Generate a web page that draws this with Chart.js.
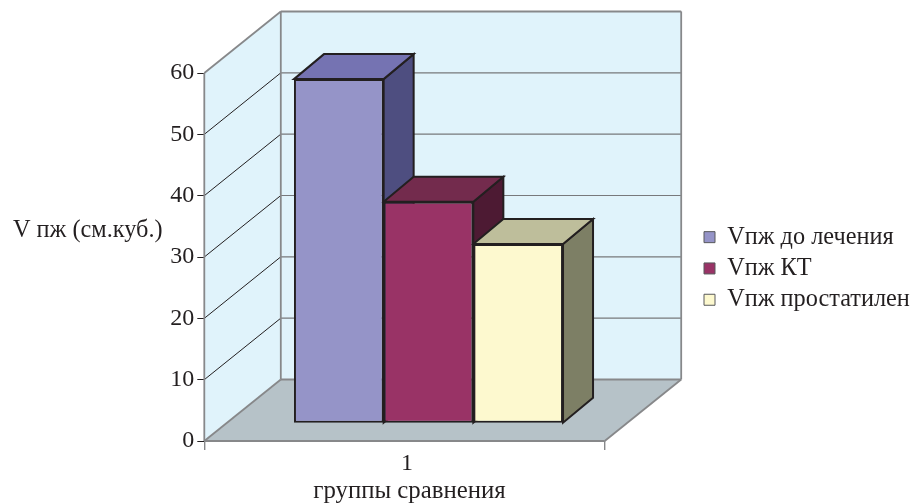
<!DOCTYPE html>
<html>
<head>
<meta charset="utf-8">
<script src="https://cdn.jsdelivr.net/npm/chart.js@4/dist/chart.umd.min.js"></script>
<style>
  html, body { margin: 0; padding: 0; background: #fff; }
  canvas { display: block; }
</style>
</head>
<body>
<canvas id="chart" width="913" height="504"></canvas>
<script>
// Values
const categories = ['1'];
const series_names = ['Vпж до лечения', 'Vпж КТ', 'Vпж простатилен'];
const before_treatment = [56.1];
const after_kt = [36.1];
const after_prostatilen = [29.2];
const y_ticks = [0, 10, 20, 30, 40, 50, 60];
const y_title = 'V пж (см.куб.)';
const x_title = 'группы сравнения';

const font_family = '"Liberation Serif", serif';
const text_color = '#231F20';
const edge_color = '#231F20';
const wall_color = '#E0F3FB';
const floor_color = '#B6C2C8';
const wall_edge = '#87888A';

const front_colors = ['#9594C8', '#993366', '#FDF9CF'];
const top_colors = ['#7573B2', '#732B4D', '#BEBE9B'];
const side_colors = ['#4E4E80', '#4D1A33', '#7D7F65'];

// Depth of the box and where the bars stand on the floor
const wall_dx = 76.5, wall_dy = -61.5;
const bar_shift_x = 24, bar_shift_y = -17.8;
const bar_dx = 30, bar_dy = -25;

function polygon(ctx, points, fill, stroke, lineWidth) {
    ctx.beginPath();
    points.forEach((p, i) => i ? ctx.lineTo(p[0], p[1]) : ctx.moveTo(p[0], p[1]));
    ctx.closePath();
    if (fill) {
        ctx.fillStyle = fill;
        ctx.fill();
    }
    if (stroke) {
        ctx.strokeStyle = stroke;
        ctx.lineWidth = lineWidth;
        ctx.lineJoin = 'miter';
        ctx.stroke();
    }
}

function line(ctx, x1, y1, x2, y2, color, lineWidth) {
    ctx.beginPath();
    ctx.moveTo(x1, y1);
    ctx.lineTo(x2, y2);
    ctx.strokeStyle = color;
    ctx.lineWidth = lineWidth;
    ctx.stroke();
}

function draw_box(chart) {
    const ctx = chart.ctx;
    const { left, right, top, bottom } = chart.chartArea;
    const dx = wall_dx, dy = wall_dy;

    polygon(ctx, [[left, top], [left + dx, top + dy], [left + dx, bottom + dy], [left, bottom]], wall_color);
    polygon(ctx, [[left + dx, top + dy], [right + dx, top + dy], [right + dx, bottom + dy], [left + dx, bottom + dy]], wall_color);
    polygon(ctx, [[left, bottom], [left + dx, bottom + dy], [right + dx, bottom + dy], [right, bottom]], floor_color);

    y_ticks.forEach(v => {
        const y = chart.scales.y.getPixelForValue(v);
        if (v > 0 && v < 60) {
            line(ctx, left, y, left + dx, y + dy, '#231F20', 1);
        }
        if (v > 0) {
            line(ctx, left + dx, y + dy, right + dx, y + dy, '#77787B', 1.2);
        }
    });

    line(ctx, left, top, left + dx, top + dy, wall_edge, 1.8);
    line(ctx, left + dx, top + dy, right + dx, top + dy, wall_edge, 1.8);
    line(ctx, left, top, left, bottom, wall_edge, 1.8);
    line(ctx, left + dx, top + dy, left + dx, bottom + dy, wall_edge, 1.8);
    line(ctx, right + dx, top + dy, right + dx, bottom + dy, wall_edge, 1.8);
    line(ctx, left, bottom, left + dx, bottom + dy, wall_edge, 1.8);
    line(ctx, left + dx, bottom + dy, right + dx, bottom + dy, wall_edge, 1.8);
    line(ctx, right, bottom, right + dx, bottom + dy, wall_edge, 1.8);
    line(ctx, left, bottom, right, bottom, wall_edge, 1.8);
}

function draw_bar_depth(chart) {
    const ctx = chart.ctx;
    chart.data.datasets.forEach((ds, i) => {
        const bar = chart.getDatasetMeta(i).data[0];
        const x1 = bar.x - bar.width / 2 + bar_shift_x;
        const x2 = bar.x + bar.width / 2 + bar_shift_x;
        const y1 = bar.y + bar_shift_y;
        const y2 = bar.base + bar_shift_y;
        polygon(ctx, [[x2, y1], [x2 + bar_dx, y1 + bar_dy], [x2 + bar_dx, y2 + bar_dy], [x2, y2]], side_colors[i], edge_color, 2);
        polygon(ctx, [[x1, y1], [x1 + bar_dx, y1 + bar_dy], [x2 + bar_dx, y1 + bar_dy], [x2, y1]], top_colors[i], edge_color, 2);
    });
}

const box_plugin = {
    id: 'box3d',
    beforeLayout(chart) {
        // reserve the whole right margin for the legend
        const legend = chart.legend;
        if (!legend._wrapped) {
            const fit = legend.fit;
            legend.fit = function () {
                fit.call(this);
                this.width = 308.3;
            };
            legend._wrapped = true;
        }
    },
    afterLayout(chart) {
        const legend = chart.legend;
        legend.left = 697;
        legend.right = 913;
        legend.top = 218;
        legend.bottom = 400;
    },
    beforeDatasetsDraw(chart) {
        draw_box(chart);
        draw_bar_depth(chart);
        chart.ctx.save();
        chart.ctx.translate(bar_shift_x, bar_shift_y);
    },
    afterDatasetsDraw(chart) {
        const ctx = chart.ctx;
        ctx.restore();
        ctx.save();
        ctx.fillStyle = text_color;
        ctx.textBaseline = 'alphabetic';
        ctx.textAlign = 'left';
        ctx.font = '24.3px ' + font_family;
        ctx.fillText(y_title, 13, 236.5);
        ctx.textAlign = 'center';
        ctx.font = '24.8px ' + font_family;
        ctx.fillText(x_title, 409.5, 498);
        ctx.restore();
    }
};

const datasets = [before_treatment, after_kt, after_prostatilen].map((values, i) => ({
    label: series_names[i],
    data: values,
    backgroundColor: front_colors[i],
    borderColor: edge_color,
    borderWidth: 2,
    borderSkipped: false,
    barPercentage: 1,
    categoryPercentage: 0.672,
    clip: false
}));

new Chart(document.getElementById('chart'), {
    type: 'bar',
    data: { labels: categories, datasets: datasets },
    plugins: [box_plugin],
    options: {
        responsive: false,
        animation: false,
        layout: { padding: { top: 73, left: 0, right: 0, bottom: 0 } },
        scales: {
            x: {
                afterFit(scale) { scale.height = 63; },
                grid: { drawOnChartArea: false, color: wall_edge, lineWidth: 1.4, tickLength: 9 },
                border: { display: false },
                ticks: { color: text_color, font: { family: font_family, size: 24 }, padding: -1, labelOffset: 2.5, maxRotation: 0 }
            },
            y: {
                min: 0,
                max: 60,
                afterFit(scale) { scale.width = 204.3; },
                afterBuildTicks(scale) { scale.ticks = y_ticks.map(v => ({ value: v })); },
                grid: { drawOnChartArea: false, color: '#231F20', lineWidth: 1, tickLength: 7 },
                border: { display: false },
                ticks: { color: text_color, font: { family: font_family, size: 24 }, padding: 3 }
            }
        },
        plugins: {
            tooltip: { enabled: false },
            legend: {
                position: 'right',
                align: 'start',
                labels: {
                    color: text_color,
                    font: { family: font_family, size: 24.3 },
                    boxWidth: 11,
                    boxHeight: 11,
                    padding: 7,
                    generateLabels(chart) {
                        return Chart.defaults.plugins.legend.labels.generateLabels(chart).map(item => {
                            item.strokeStyle = '#58595B';
                            item.lineWidth = 1;
                            return item;
                        });
                    }
                }
            }
        }
    }
});
</script>
</body>
</html>
